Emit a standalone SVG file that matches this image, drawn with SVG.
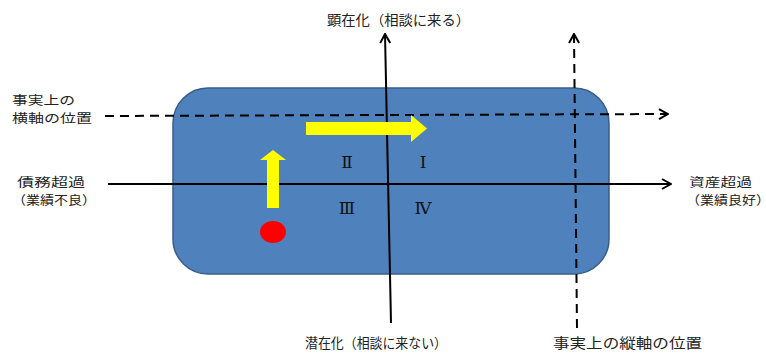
<svg xmlns="http://www.w3.org/2000/svg" width="766" height="353" viewBox="0 0 766 353">
  <style>
    .lbl { font-family: "Noto Sans CJK JP", "Noto Sans", sans-serif; font-size: 14px; fill: #222; }
    .lbl2 { font-family: "Noto Sans CJK JP", "Noto Sans", sans-serif; font-size: 12.4px; fill: #222; }
    .rn { font-family: "DejaVu Serif", "Liberation Serif", serif; font-size: 17px; fill: #111; text-anchor: middle; }
    .axis { stroke: #000; stroke-width: 2; fill: none; }
    .dash { stroke: #000; stroke-width: 2; fill: none; stroke-dasharray: 9 6; }
  </style>
  <defs>
    <marker id="open" viewBox="0 0 12 12" refX="11" refY="6" markerWidth="12" markerHeight="12" markerUnits="userSpaceOnUse" orient="auto">
      <path d="M2,1 L11,6 L2,11" fill="none" stroke="#000" stroke-width="2"/>
    </marker>
  </defs>
  <rect width="766" height="353" fill="#fff"/>

  <g id="box">
    <rect x="173" y="88" width="436" height="186" rx="35" ry="35" fill="#4F81BD" stroke="#385D8A" stroke-width="1.5"/>
  </g>

  <g id="connectors">
    <line class="axis" x1="108" y1="184" x2="671" y2="184" marker-end="url(#open)"/>
    <line class="axis" x1="391" y1="323" x2="385" y2="34" marker-end="url(#open)"/>
    <line class="dash" x1="105" y1="116" x2="668" y2="114" marker-end="url(#open)"/>
    <line class="dash" x1="577" y1="328" x2="574" y2="34" marker-end="url(#open)"/>
  </g>

  <g id="arrow-right">
    <polygon points="306,122 411,122 411,115 427,128.5 411,142 411,135 306,135" fill="#FFFF00"/>
  </g>
  <g id="arrow-up">
    <polygon points="267,208 267,160 260,160 273,150 286,160 279,160 279,208" fill="#FFFF00"/>
  </g>
  <g id="dot">
    <ellipse cx="273" cy="232" rx="13" ry="11" fill="#FF0000"/>
  </g>

  <g id="quadrants">
    <text class="rn" x="347" y="168">Ⅱ</text>
    <text class="rn" x="423" y="168">Ⅰ</text>
    <text class="rn" x="347" y="214">Ⅲ</text>
    <text class="rn" x="423" y="214">Ⅳ</text>
  </g>

  <g id="label-top"><text class="lbl" x="327" y="25" textLength="143" lengthAdjust="spacingAndGlyphs">顕在化（相談に来る）</text></g>
  <g id="label-bottom"><text class="lbl" x="305" y="348" textLength="142" lengthAdjust="spacingAndGlyphs">潜在化（相談に来ない）</text></g>
  <g id="label-actual-v"><text class="lbl" x="553" y="348" textLength="149" lengthAdjust="spacingAndGlyphs">事実上の縦軸の位置</text></g>
  <g id="label-actual-h">
    <text class="lbl2" x="12" y="105" textLength="63" lengthAdjust="spacingAndGlyphs">事実上の</text>
    <text class="lbl2" x="12" y="123" textLength="80" lengthAdjust="spacingAndGlyphs">横軸の位置</text>
  </g>
  <g id="label-left">
    <text class="lbl2" x="17" y="187" textLength="68" lengthAdjust="spacingAndGlyphs">債務超過</text>
    <text class="lbl2" x="12" y="205" textLength="84" lengthAdjust="spacingAndGlyphs">（業績不良）</text>
  </g>
  <g id="label-right">
    <text class="lbl2" x="689" y="187" textLength="63" lengthAdjust="spacingAndGlyphs">資産超過</text>
    <text class="lbl2" x="686" y="205" textLength="84" lengthAdjust="spacingAndGlyphs">（業績良好）</text>
  </g>
</svg>
